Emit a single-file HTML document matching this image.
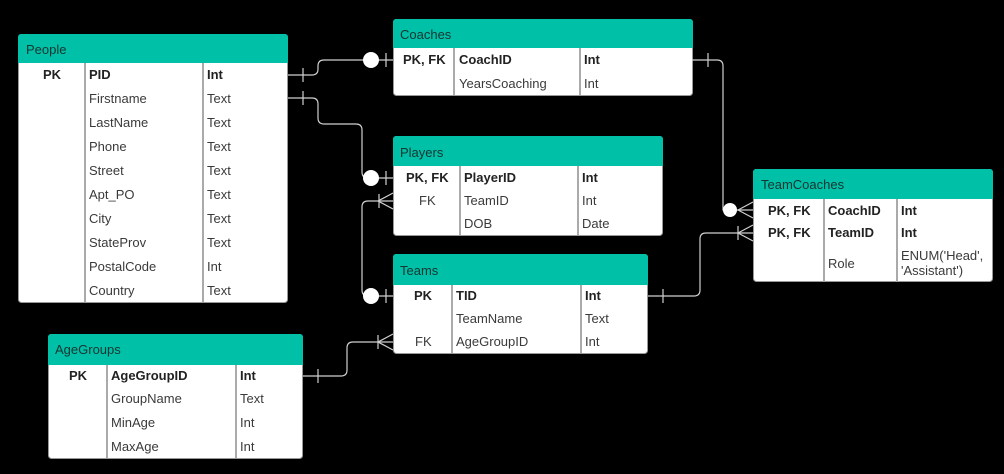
<!DOCTYPE html>
<html><head><meta charset="utf-8"><style>
html,body{margin:0;padding:0;background:#000;}
svg{display:block;}
text{font-family:"Liberation Sans",sans-serif;font-size:13px;fill:#3a3a3a;}
.h{fill:#17352f;font-size:13px;}
.b{font-weight:bold;fill:#222;}
.box{fill:#fff;stroke:#999;stroke-width:1;}
.hd{fill:#00c0a8;}
.dv{stroke:#aaa;stroke-width:2;}
.ln{fill:none;stroke:#d0d0d0;stroke-width:1.2;}
</style></head><body>
<svg width="1004" height="474" viewBox="0 0 1004 474" xmlns="http://www.w3.org/2000/svg">
<!-- People -->
<rect class="box" x="18.5" y="34.5" width="269" height="268" rx="3"/>
<path class="hd" d="M18,37 a3,3 0 0 1 3,-3 h264 a3,3 0 0 1 3,3 v26 h-270z"/>
<line class="dv" x1="85" y1="63" x2="85" y2="302"/><line class="dv" x1="203" y1="63" x2="203" y2="302"/>
<text class="h" x="26" y="54">People</text>
<text class="b" x="43" y="79">PK</text><text class="b" x="89" y="79">PID</text><text class="b" x="207" y="79">Int</text>
<text x="89" y="103">Firstname</text><text x="207" y="103">Text</text>
<text x="89" y="127">LastName</text><text x="207" y="127">Text</text>
<text x="89" y="151">Phone</text><text x="207" y="151">Text</text>
<text x="89" y="175">Street</text><text x="207" y="175">Text</text>
<text x="89" y="199">Apt_PO</text><text x="207" y="199">Text</text>
<text x="89" y="223">City</text><text x="207" y="223">Text</text>
<text x="89" y="247">StateProv</text><text x="207" y="247">Text</text>
<text x="89" y="271">PostalCode</text><text x="207" y="271">Int</text>
<text x="89" y="295">Country</text><text x="207" y="295">Text</text>

<!-- Coaches -->
<rect class="box" x="393.5" y="19.5" width="299" height="76" rx="3"/>
<path class="hd" d="M393,22 a3,3 0 0 1 3,-3 h294 a3,3 0 0 1 3,3 v26 h-300z"/>
<line class="dv" x1="454" y1="48" x2="454" y2="95"/><line class="dv" x1="580" y1="48" x2="580" y2="95"/>
<text class="h" x="400" y="39">Coaches</text>
<text class="b" x="403" y="64">PK, FK</text><text class="b" x="459" y="64">CoachID</text><text class="b" x="584" y="64">Int</text>
<text x="459" y="88">YearsCoaching</text><text x="584" y="88">Int</text>

<!-- Players -->
<rect class="box" x="393.5" y="136.5" width="269" height="99" rx="3"/>
<path class="hd" d="M393,139 a3,3 0 0 1 3,-3 h264 a3,3 0 0 1 3,3 v27 h-270z"/>
<line class="dv" x1="460" y1="166" x2="460" y2="235"/><line class="dv" x1="578" y1="166" x2="578" y2="235"/>
<text class="h" x="400" y="157">Players</text>
<text class="b" x="406" y="182">PK, FK</text><text class="b" x="464" y="182">PlayerID</text><text class="b" x="582" y="182">Int</text>
<text x="419" y="205">FK</text><text x="464" y="205">TeamID</text><text x="582" y="205">Int</text>
<text x="464" y="228">DOB</text><text x="582" y="228">Date</text>

<!-- Teams -->
<rect class="box" x="393.5" y="254.5" width="254" height="99" rx="3"/>
<path class="hd" d="M393,257 a3,3 0 0 1 3,-3 h249 a3,3 0 0 1 3,3 v28 h-255z"/>
<line class="dv" x1="452" y1="285" x2="452" y2="353"/><line class="dv" x1="581" y1="285" x2="581" y2="353"/>
<text class="h" x="400" y="275">Teams</text>
<text class="b" x="414" y="300">PK</text><text class="b" x="456" y="300">TID</text><text class="b" x="585" y="300">Int</text>
<text x="456" y="323">TeamName</text><text x="585" y="323">Text</text>
<text x="415" y="346">FK</text><text x="456" y="346">AgeGroupID</text><text x="585" y="346">Int</text>

<!-- TeamCoaches -->
<rect class="box" x="753.5" y="169.5" width="239" height="112" rx="3"/>
<path class="hd" d="M753,172 a3,3 0 0 1 3,-3 h234 a3,3 0 0 1 3,3 v27 h-240z"/>
<line class="dv" x1="824" y1="199" x2="824" y2="282"/><line class="dv" x1="897" y1="199" x2="897" y2="282"/>
<text class="h" x="761" y="189">TeamCoaches</text>
<text class="b" x="768" y="215">PK, FK</text><text class="b" x="828" y="215">CoachID</text><text class="b" x="901" y="215">Int</text>
<text class="b" x="768" y="237">PK, FK</text><text class="b" x="828" y="237">TeamID</text><text class="b" x="901" y="237">Int</text>
<text x="828" y="268">Role</text><text x="901" y="260">ENUM('Head',</text><text x="901" y="275">'Assistant')</text>

<!-- AgeGroups -->
<rect class="box" x="48.5" y="334.5" width="254" height="124" rx="3"/>
<path class="hd" d="M48,337 a3,3 0 0 1 3,-3 h249 a3,3 0 0 1 3,3 v28 h-255z"/>
<line class="dv" x1="107" y1="365" x2="107" y2="458"/><line class="dv" x1="236" y1="365" x2="236" y2="458"/>
<text class="h" x="55" y="354">AgeGroups</text>
<text class="b" x="69" y="380">PK</text><text class="b" x="111" y="380">AgeGroupID</text><text class="b" x="240" y="380">Int</text>
<text x="111" y="403">GroupName</text><text x="240" y="403">Text</text>
<text x="111" y="427">MinAge</text><text x="240" y="427">Int</text>
<text x="111" y="451">MaxAge</text><text x="240" y="451">Int</text>

<!-- Connectors -->
<!-- People PID -> Coaches -->
<path class="ln" d="M288,75 H312 Q318,75 318,69 V66 Q318,60 324,60 H393"/>
<line class="ln" x1="303" y1="68" x2="303" y2="82"/><line class="ln" x1="386" y1="53" x2="386" y2="67"/>
<circle cx="371" cy="60" r="8" fill="#fff"/>
<!-- People Firstname -> Players -->
<path class="ln" d="M288,98 H312 Q318,98 318,104 V118 Q318,124 324,124 H356 Q362,124 362,130 V172 Q362,178 368,178 H393"/>
<line class="ln" x1="303" y1="91" x2="303" y2="105"/><line class="ln" x1="386" y1="171" x2="386" y2="185"/>
<circle cx="371" cy="178" r="8" fill="#fff"/>
<!-- Teams -> Players TeamID -->
<path class="ln" d="M393,296 H368 Q362,296 362,290 V207 Q362,201 368,201 H393"/>
<path class="ln" d="M378,201 L393,193 M378,201 L393,209"/>
<line class="ln" x1="379" y1="194" x2="379" y2="208"/>
<line class="ln" x1="386" y1="289" x2="386" y2="303"/>
<circle cx="371" cy="296" r="8" fill="#fff"/>
<!-- Coaches -> TeamCoaches CoachID -->
<path class="ln" d="M692,60 H717 Q723,60 723,66 V210 H753"/>
<line class="ln" x1="708" y1="53" x2="708" y2="67"/>
<path class="ln" d="M738,210 L753,202 M738,210 L753,218"/>
<circle cx="730" cy="210" r="7" fill="#fff"/>
<!-- Teams -> TeamCoaches TeamID -->
<path class="ln" d="M648,296 H694 Q700,296 700,290 V239 Q700,233 706,233 H753"/>
<line class="ln" x1="663" y1="289" x2="663" y2="303"/>
<path class="ln" d="M738,233 L753,225 M738,233 L753,241"/>
<line class="ln" x1="738" y1="226" x2="738" y2="240"/>
<!-- AgeGroups -> Teams AgeGroupID -->
<path class="ln" d="M303,376 H341 Q347,376 347,370 V348 Q347,342 353,342 H393"/>
<line class="ln" x1="318" y1="369" x2="318" y2="383"/>
<path class="ln" d="M378,342 L393,334 M378,342 L393,350"/>
<line class="ln" x1="378" y1="335" x2="378" y2="349"/>
</svg>
</body></html>
